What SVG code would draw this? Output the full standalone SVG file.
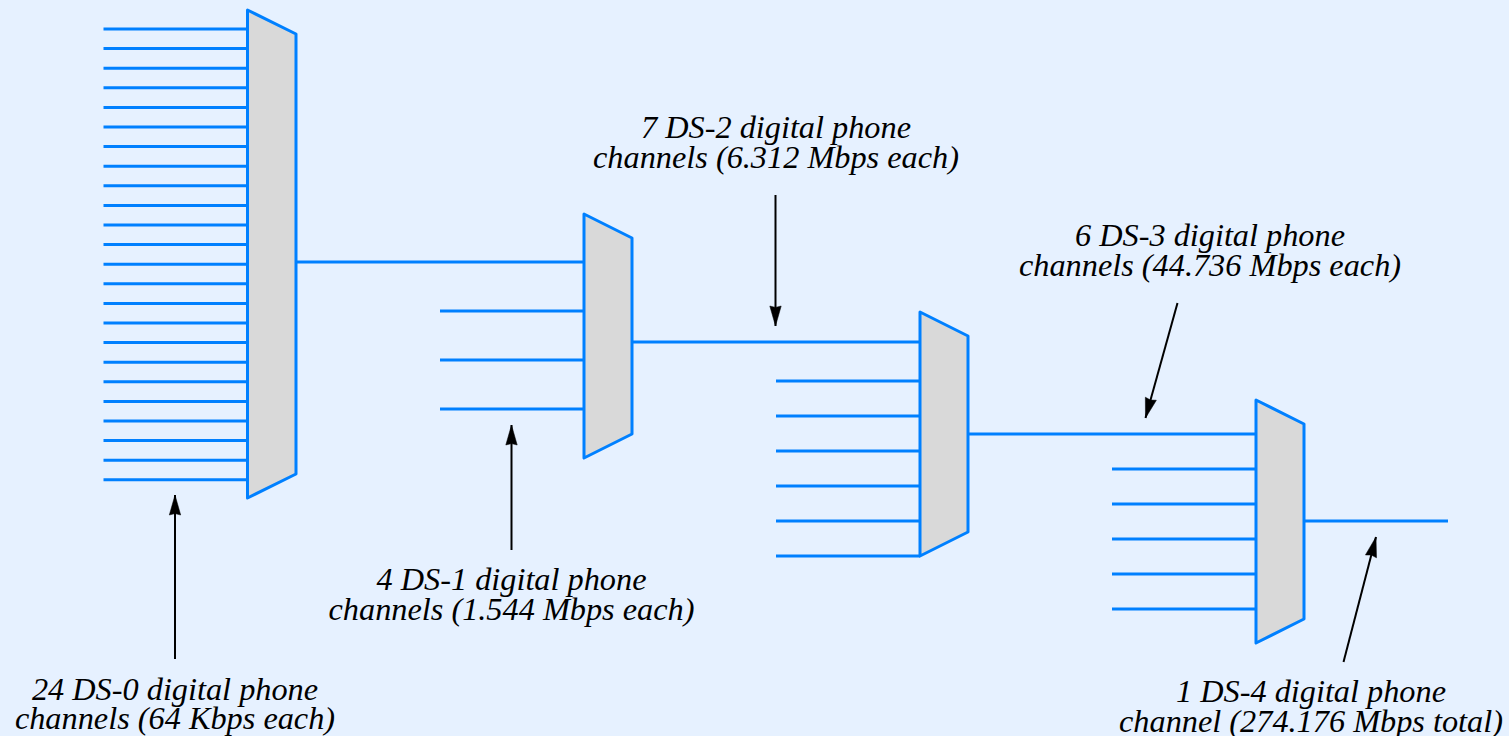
<svg xmlns="http://www.w3.org/2000/svg" width="1509" height="736" viewBox="0 0 1509 736">
<style>
.w{stroke:#0080ff;stroke-width:3;fill:none}
.m{stroke:#0080ff;stroke-width:3;fill:#d9d9d9;stroke-linejoin:round}
.a{stroke:#000;stroke-width:2;fill:none;marker-end:url(#h)}
text{font-family:"Liberation Serif","Times New Roman",serif;font-style:italic;font-size:32.3px;fill:#000;text-anchor:middle}
</style>
<defs><marker id="h" markerUnits="userSpaceOnUse" markerWidth="24" markerHeight="24" refX="21" refY="6" orient="auto" viewBox="0 0 24 12"><path d="M21 6L1 .3L2.400 6L1 11.700Z" fill="#000" stroke="#000" stroke-width=".5"/></marker></defs>
<rect width="1509" height="736" fill="#e6f1ff"/>
<g id="connectors">
<path class="w" d="M103.500 29H247M103.500 48.600H247M103.500 68.200H247M103.500 87.800H247M103.500 107.400H247M103.500 127H247M103.500 146.600H247M103.500 166.200H247M103.500 185.800H247M103.500 205.400H247M103.500 225H247M103.500 244.600H247M103.500 264.200H247M103.500 283.800H247M103.500 303.400H247M103.500 323H247M103.500 342.600H247M103.500 362.200H247M103.500 381.800H247M103.500 401.400H247M103.500 421H247M103.500 440.600H247M103.500 460.200H247M103.500 479.800H247"/>
<path class="w" d="M296 262H584M440 311H584M440 360H584M440 409H584"/>
<path class="w" d="M632 342H920M776 381H920M776 416H920M776 451H920M776 486H920M776 521H920M776 556H920"/>
<path class="w" d="M968 434H1256M1112 469H1256M1112 504H1256M1112 539H1256M1112 574H1256M1112 609H1256M1304 521H1448"/>
<path class="a" d="M175 659V495"/>
<path class="a" d="M511.500 550V425"/>
<path class="a" d="M775.500 195V326"/>
<path class="a" d="M1177.500 303L1145.500 418"/>
<path class="a" d="M1343.500 662L1376 537"/>
</g>
<g id="mux1"><path class="m" d="M247.500 10L296 34V474L247.500 498Z"/></g>
<g id="mux2"><path class="m" d="M584 214L632 238V434L584 458Z"/></g>
<g id="mux3"><path class="m" d="M920 312L968 336V532L920 556Z"/></g>
<g id="mux4"><path class="m" d="M1256 400L1304 424V619L1256 643Z"/></g>
<g id="label-ds0"><text x="175" y="700">24 DS-0 digital phone</text><text x="175" y="729">channels (64 Kbps each)</text></g>
<g id="label-ds1"><text x="511.500" y="590">4 DS-1 digital phone</text><text x="511.500" y="620">channels (1.544 Mbps each)</text></g>
<g id="label-ds2"><text x="776" y="138">7 DS-2 digital phone</text><text x="776" y="167.500">channels (6.312 Mbps each)</text></g>
<g id="label-ds3"><text x="1210" y="246">6 DS-3 digital phone</text><text x="1210" y="275.500">channels (44.736 Mbps each)</text></g>
<g id="label-ds4"><text x="1311" y="702">1 DS-4 digital phone</text><text x="1311" y="731.500">channel (274.176 Mbps total)</text></g>
</svg>
